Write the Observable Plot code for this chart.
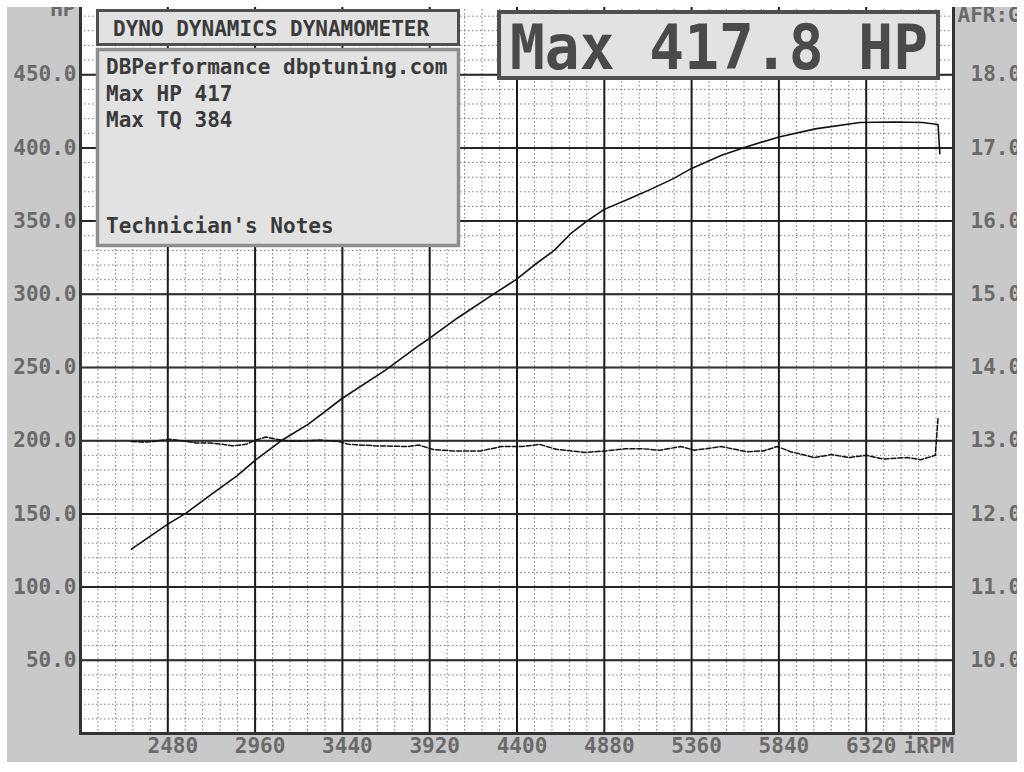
<!DOCTYPE html>
<html>
<head>
<meta charset="utf-8">
<script src="https://cdn.jsdelivr.net/npm/d3@7"></script>
<script src="https://cdn.jsdelivr.net/npm/@observablehq/plot@0.6"></script>
<style>
  html, body { margin: 0; padding: 0; background: #ffffff; }
  body { width: 1024px; height: 772px; position: relative; overflow: hidden; }
  #scan { position: absolute; left: 7px; top: 7px; width: 1010px; height: 755px; overflow: hidden; background: #c9c9c9; }
  #chart { position: absolute; left: -7px; top: -7px; width: 1024px; height: 772px; }
  #chart svg { max-width: none !important; width: 1024px !important; height: 772px !important; }
  #overlay { position: absolute; left: 0; top: 0; pointer-events: none; }
  #overlay text { font-family: "DejaVu Sans Mono", monospace; font-weight: bold; }
</style>
</head>
<body>
<div id="scan"><div id="chart"></div></div>
<svg id="overlay" width="1024" height="772" viewBox="0 0 1024 772">
  <rect x="97.5" y="10.5" width="361" height="34" fill="#e2e2e2" stroke="#4f4f4f" stroke-width="3"/>
  <text x="113" y="36" font-size="21" fill="#3a3a3a">DYNO DYNAMICS DYNAMOMETER</text>
  <rect x="97.5" y="49.5" width="361" height="196" fill="#e2e2e2" stroke="#8e8e8e" stroke-width="3.5"/>
  <text x="106" y="74" font-size="21" fill="#3a3a3a">DBPerformance dbptuning.com</text>
  <text x="106" y="101" font-size="21" fill="#3a3a3a">Max HP 417</text>
  <text x="106" y="127" font-size="21" fill="#3a3a3a">Max TQ 384</text>
  <text x="106" y="233" font-size="21" fill="#3a3a3a">Technician's Notes</text>
  <rect x="499" y="12" width="439" height="66" fill="#e2e2e2" stroke="#4f4f4f" stroke-width="4"/>
  <text x="510" y="69" font-size="63" fill="#4a4a4a" textLength="418" lengthAdjust="spacingAndGlyphs">Max 417.8 HP</text>
</svg>
<script>
// ---- data read from the dyno sheet ----
const hpRpm = [2280, 2480, 2580, 2710, 2860, 2965, 3110, 3255, 3440, 3675, 3860, 3920, 4075, 4275, 4395, 4495, 4605, 4700, 4790, 4880, 5030, 5140, 5260, 5360, 5525, 5655, 5840, 6040, 6285, 6475, 6630, 6715, 6725];
const hpVal = [126, 143, 150.5, 162.5, 176, 187, 200.5, 211.5, 229, 248, 265, 270, 284, 300.5, 310, 320, 330, 342, 350.5, 358, 366, 372, 379, 386, 395, 400.5, 407.5, 413, 417.3, 417.7, 417.3, 416, 396];

const afrRpm = [2280, 2345, 2400, 2490, 2525, 2580, 2635, 2710, 2780, 2835, 2910, 2965, 3020, 3075, 3130, 3185, 3310, 3420, 3475, 3620, 3800, 3860, 3940, 4050, 4200, 4315, 4430, 4525, 4620, 4770, 4885, 5000, 5090, 5185, 5300, 5375, 5525, 5660, 5755, 5830, 5905, 6035, 6130, 6225, 6320, 6415, 6545, 6620, 6700, 6715];
const afrVal = [12.99, 12.98, 12.99, 13.02, 13.01, 12.99, 12.97, 12.97, 12.95, 12.93, 12.95, 13.01, 13.05, 13.02, 13.00, 12.99, 13.01, 12.99, 12.95, 12.93, 12.92, 12.94, 12.88, 12.86, 12.86, 12.92, 12.92, 12.95, 12.88, 12.84, 12.86, 12.89, 12.89, 12.87, 12.92, 12.87, 12.92, 12.85, 12.86, 12.92, 12.85, 12.77, 12.81, 12.77, 12.80, 12.75, 12.77, 12.74, 12.80, 13.31];

const rpmTicks = [2480, 2960, 3440, 3920, 4400, 4880, 5360, 5840, 6320];
const hpTicks = [50, 100, 150, 200, 250, 300, 350, 400, 450];
const afrTicks = [10, 11, 12, 13, 14, 15, 16, 17, 18];

const rpmDomain = [2000, 6800];
const hpDomain = [0, 500];
const rpmMinorStep = 96;
const hpMinorStep = 10;

// ---- derived tables ----
const hpData = hpRpm.map((r, i) => ({rpm: r, hp: hpVal[i]}));
const afrData = afrRpm.map((r, i) => ({rpm: r, afr: afrVal[i]}));
const afrToY = a => (a - 9) * 50; // AFR 10 at HP 50, AFR 18 at HP 450
const minorX = d3.range(rpmDomain[0] + rpmMinorStep, rpmDomain[1], rpmMinorStep).filter(v => !rpmTicks.includes(v));
const minorY = d3.range(hpDomain[0] + hpMinorStep, hpDomain[1], hpMinorStep).filter(v => !hpTicks.includes(v));

const tickFill = "#6a6a6a";
const chart = Plot.plot({
  width: 1024,
  height: 772,
  marginLeft: 80,
  marginRight: 71,
  marginTop: 1,
  marginBottom: 39,
  style: {background: "transparent", fontFamily: "DejaVu Sans Mono, monospace", fontSize: "21px", fontWeight: "bold"},
  x: {domain: rpmDomain, axis: null},
  y: {domain: hpDomain, axis: null},
  marks: [
    Plot.frame({fill: "#ffffff", stroke: "none"}),
    Plot.ruleX(minorX, {stroke: "#7a7a7a", strokeWidth: 1, strokeDasharray: "1.5,2.5"}),
    Plot.ruleY(minorY, {stroke: "#7a7a7a", strokeWidth: 1, strokeDasharray: "1.5,2.5"}),
    Plot.ruleX(rpmTicks, {stroke: "#1a1a1a", strokeWidth: 2}),
    Plot.ruleY(hpTicks, {stroke: "#1a1a1a", strokeWidth: 2}),
    Plot.tickY(hpTicks, {y: d => d, frameAnchor: "left", stroke: "#333"}),
    Plot.frame({stroke: "#333333", strokeWidth: 3}),
    Plot.line(afrData, {x: "rpm", y: d => afrToY(d.afr), stroke: "#111", strokeWidth: 1.5, strokeDasharray: "5,2", curve: "linear"}),
    Plot.line(hpData, {x: "rpm", y: "hp", stroke: "#111", strokeWidth: 1.6, curve: "linear"}),
    Plot.text(hpTicks, {y: d => d, text: d => d.toFixed(1), frameAnchor: "left", textAnchor: "end", dx: -4, fill: tickFill}),
    Plot.text(afrTicks, {y: d => afrToY(d), text: d => d.toFixed(1), frameAnchor: "right", textAnchor: "start", dx: 17, fill: tickFill}),
    Plot.text(rpmTicks, {x: d => d, text: d => String(d), frameAnchor: "bottom", lineAnchor: "middle", dy: 13, dx: 5, fill: tickFill}),
    Plot.text(["iRPM"], {frameAnchor: "bottom-right", textAnchor: "start", lineAnchor: "middle", dx: -50, dy: 13, fill: tickFill}),
    Plot.text(["HP"], {frameAnchor: "top-left", textAnchor: "end", lineAnchor: "bottom", dx: -5, dy: 14, fill: tickFill}),
    Plot.text(["AFR:G"], {frameAnchor: "top-right", textAnchor: "start", lineAnchor: "bottom", dx: 4, dy: 20, fill: tickFill})
  ]
});
document.getElementById("chart").appendChild(chart);
</script>
</body>
</html>
